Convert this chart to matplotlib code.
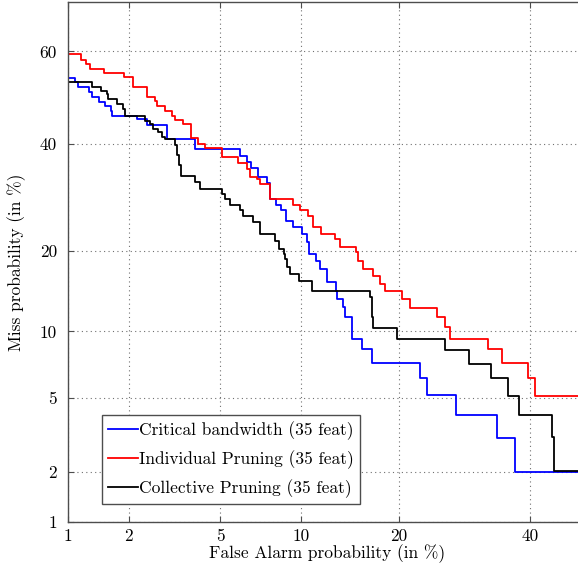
import math
import numpy as np
import matplotlib
matplotlib.use("Agg")
import matplotlib.pyplot as plt

# ---------------- data (percent) ----------------
cb_fa = [1.0, 1.09, 1.12, 1.28, 1.33, 1.44, 1.54, 1.65, 1.67, 2.19, 2.44, 2.99, 3.95,
         6.00, 6.39, 6.61, 7.03, 7.59, 7.79, 8.18, 8.53, 8.88, 9.40, 10.09, 10.49,
         10.65, 11.24, 11.59, 12.22, 13.06, 13.15, 13.73, 13.93, 14.63, 15.69, 16.78,
         22.74, 23.70, 27.90, 34.38, 37.40, 50.0]
cb_miss = [54.30, 53.42, 52.33, 51.23, 50.15, 49.04, 48.17, 47.07, 45.99, 45.34, 44.03,
           41.02, 38.90, 37.43, 36.19, 34.96, 33.15, 31.96, 28.88, 27.76, 26.87, 24.90,
           23.86, 22.69, 21.39, 19.52, 18.47, 17.33, 15.56, 14.41, 13.43, 12.50, 11.41,
           9.25, 8.37, 7.32, 6.24, 5.18, 4.11, 3.12, 2.0, 2.0]

ip_fa = [1.0, 1.16, 1.24, 1.30, 1.52, 1.90, 2.10, 2.43, 2.65, 2.70, 2.93, 3.15, 3.25,
         3.52, 3.81, 4.07, 4.35, 5.11, 5.90, 6.39, 6.56, 6.98, 7.15, 7.79, 9.40, 9.93,
         10.57, 10.98, 11.69, 12.95, 13.44, 15.04, 15.25, 15.80, 16.91, 17.70, 18.30,
         20.39, 21.42, 25.12, 26.28, 27.00, 32.89, 35.20, 39.63, 40.83, 50.0]
ip_miss = [59.48, 58.20, 57.34, 56.26, 55.39, 54.52, 52.33, 50.15, 49.27, 48.17, 47.07,
           45.99, 45.13, 44.25, 41.23, 39.95, 39.11, 37.23, 35.98, 34.76, 33.15, 32.75,
           31.77, 28.88, 27.76, 26.87, 25.79, 23.86, 22.69, 21.87, 20.60, 19.82, 18.47,
           17.33, 16.36, 15.30, 14.41, 13.43, 12.39, 11.41, 10.39, 9.25, 8.37, 7.32,
           6.24, 5.1, 5.1]

cp_fa = [1.0, 1.33, 1.47, 1.57, 1.59, 1.76, 1.88, 1.92, 2.39, 2.51, 2.59, 2.73, 2.84,
         2.93, 3.25, 3.31, 3.38, 3.45, 3.95, 4.15, 5.11, 5.25, 5.48, 6.00, 6.16, 6.73,
         7.15, 8.13, 8.40, 8.75, 8.82, 8.97, 9.12, 9.86, 10.92, 16.57, 16.78, 16.91,
         19.75, 26.28, 29.88, 33.40, 36.21, 38.08, 43.82, 44.18, 50.0]
cp_miss = [53.42, 52.33, 51.46, 50.80, 49.71, 48.61, 47.51, 45.99, 44.91, 44.25, 43.17,
           42.52, 41.45, 41.02, 39.74, 37.64, 35.57, 33.35, 32.16, 30.79, 29.83, 28.88,
           27.76, 26.87, 25.79, 24.74, 22.69, 21.55, 20.29, 19.52, 18.77, 17.61, 16.64,
           15.69, 14.41, 13.68, 11.51, 10.29, 9.25, 8.29, 7.24, 6.24, 5.12, 4.11, 3.15,
           2.04, 2.04]

labels = ["Critical bandwidth (35 feat)", "Individual Pruning (35 feat)",
          "Collective Pruning (35 feat)"]
colors = ["#0000ff", "#ff0000", "#000000"]

x_ticks = [1, 2, 5, 10, 20, 40]
y_ticks = [1, 2, 5, 10, 20, 40, 60]

# ---------------- normal deviate scale ----------------
_a = [-3.969683028665376e+01, 2.209460984245205e+02, -2.759285104469687e+02,
      1.383577518672690e+02, -3.066479806614716e+01, 2.506628277459239e+00]
_b = [-5.447609879822406e+01, 1.615858368580409e+02, -1.556989798598866e+02,
      6.680131188771972e+01, -1.328068155288572e+01]
_c = [-7.784894002430293e-03, -3.223964580411365e-01, -2.400758277161838e+00,
      -2.549671010229583e+00, 4.374664141464968e+00, 2.938163982698783e+00]
_d = [7.784695709041462e-03, 3.224671290700398e-01, 2.445134137142996e+00,
      3.754408661907416e+00]


def _ppf(p):
    p = np.clip(np.asarray(p, dtype=float), 1e-12, 1 - 1e-12)
    plow = 0.02425
    out = np.empty_like(p)
    lo = p < plow
    hi = p > 1 - plow
    mid = ~(lo | hi)
    q = np.sqrt(-2 * np.log(p[lo]))
    out[lo] = (((((_c[0]*q+_c[1])*q+_c[2])*q+_c[3])*q+_c[4])*q+_c[5]) / \
              ((((_d[0]*q+_d[1])*q+_d[2])*q+_d[3])*q+1)
    q = np.sqrt(-2 * np.log(1 - p[hi]))
    out[hi] = -(((((_c[0]*q+_c[1])*q+_c[2])*q+_c[3])*q+_c[4])*q+_c[5]) / \
              ((((_d[0]*q+_d[1])*q+_d[2])*q+_d[3])*q+1)
    q = p[mid] - 0.5
    r = q * q
    out[mid] = (((((_a[0]*r+_a[1])*r+_a[2])*r+_a[3])*r+_a[4])*r+_a[5])*q / \
               (((((_b[0]*r+_b[1])*r+_b[2])*r+_b[3])*r+_b[4])*r+1)
    return out


_erf = np.vectorize(math.erf)


def fwd(v):
    return _ppf(np.asarray(v, dtype=float) / 100.0)


def inv(z):
    z = np.asarray(z, dtype=float)
    return 100.0 * 0.5 * (1 + _erf(z / math.sqrt(2)))


# ---------------- figure ----------------
plt.rcParams['font.family'] = ['cmr10', 'DejaVu Serif']
plt.rcParams['axes.unicode_minus'] = False

fig = plt.figure(figsize=(5.78, 5.65), dpi=100)
ax = fig.add_axes([68/578, 43/565, (587-68)/578, 520/565])
ax.set_xscale('function', functions=(fwd, inv))
ax.set_yscale('function', functions=(fwd, inv))
ax.set_xlim(1, 50)
ax.set_ylim(1, 70)

for fa, miss, lab, col in zip([cb_fa, ip_fa, cp_fa], [cb_miss, ip_miss, cp_miss],
                              labels, colors):
    ax.plot(fa, miss, drawstyle='steps-post', color=col, lw=1.3, label=lab)

spine_col = '#4d4d4d'
fs = 12.5
ax.set_xticks(x_ticks)
ax.set_xticklabels([str(t) for t in x_ticks])
ax.set_yticks(y_ticks)
ax.set_yticklabels([str(t) for t in y_ticks])
ax.minorticks_off()
ax.tick_params(direction='in', length=4, width=0.8, colors=spine_col,
               labelcolor='black', labelsize=fs, top=True, right=True)
ax.tick_params(axis='x', pad=5)
ax.tick_params(axis='y', pad=8)
ax.grid(True, linestyle=(0, (1, 3)), color='#707070', linewidth=0.8)
for s in ax.spines.values():
    s.set_color(spine_col)
    s.set_linewidth(1.0)

ax.set_xlabel('False Alarm probability (in %)', fontsize=fs, labelpad=0)
ax.set_ylabel('Miss probability (in %)', fontsize=fs, labelpad=10)

leg = ax.legend(loc='lower left', bbox_to_anchor=((102-68)/519, (522-504)/520),
                borderaxespad=0, fancybox=False, framealpha=1, edgecolor=spine_col,
                fontsize=12.5, handlelength=1.7, handletextpad=0.1,
                labelspacing=0.6, borderpad=0.35)
leg.get_frame().set_linewidth(1.0)

fig.savefig('out.png', dpi=100)
